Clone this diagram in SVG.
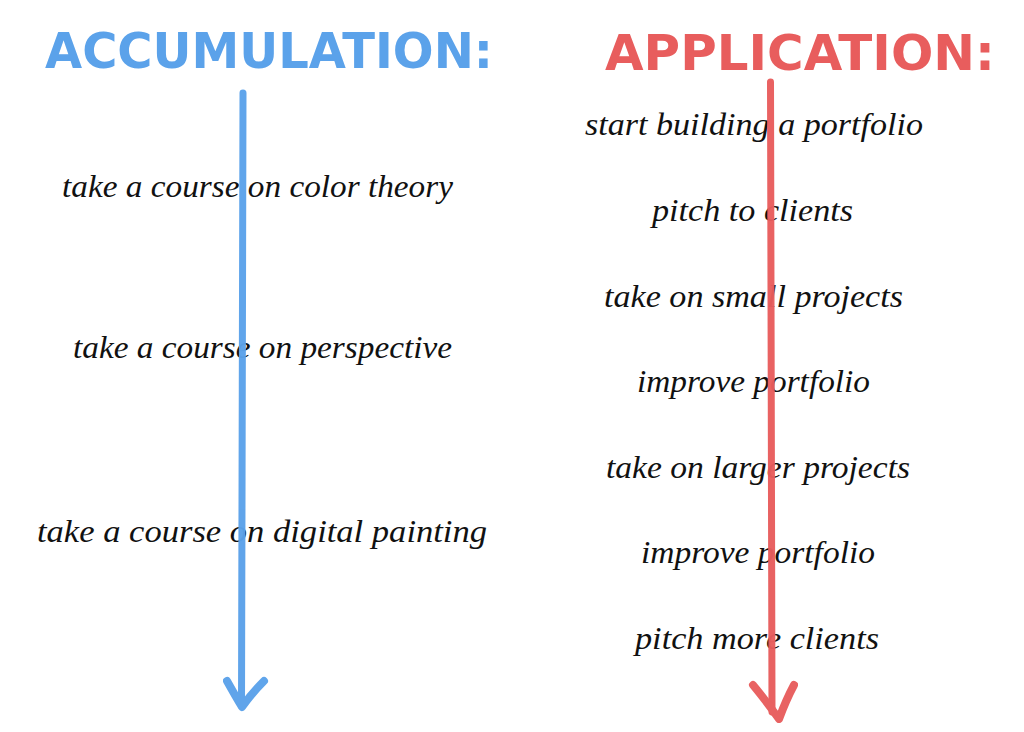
<svg xmlns="http://www.w3.org/2000/svg" width="1024" height="732" viewBox="0 0 1024 732">
  <style>
    .item { font-family: "Liberation Serif", "DejaVu Serif", serif; font-style: italic; font-size: 31px; fill: #111111; }
    .head { font-family: "DejaVu Sans", "Liberation Sans", sans-serif; font-weight: bold; font-size: 50px; }
    .blue { fill: #5BA2EA; }
    .red { fill: #E85D5D; }
    .shaft { fill: none; stroke-linecap: round; stroke-linejoin: round; }
    .bstroke { stroke: #5BA2EA; }
    .rstroke { stroke: #E85D5D; }
  </style>
  <rect x="0" y="0" width="1024" height="732" fill="#ffffff"/>

  <g id="heading-accumulation">
    <text class="head blue" x="45" y="68" textLength="448" lengthAdjust="spacingAndGlyphs">ACCUMULATION:</text>
  </g>
  <g id="heading-application">
    <text class="head red" x="605" y="70" textLength="390" lengthAdjust="spacingAndGlyphs">APPLICATION:</text>
  </g>

  <g id="acc-1"><text class="item" x="62" y="197" textLength="391" lengthAdjust="spacingAndGlyphs">take a course on color theory</text></g>
  <g id="acc-2"><text class="item" x="73" y="358" textLength="379" lengthAdjust="spacingAndGlyphs">take a course on perspective</text></g>
  <g id="acc-3"><text class="item" x="37" y="542" textLength="450" lengthAdjust="spacingAndGlyphs">take a course on digital painting</text></g>

  <g id="app-1"><text class="item" x="585" y="135" textLength="338" lengthAdjust="spacingAndGlyphs">start building a portfolio</text></g>
  <g id="app-2"><text class="item" x="652" y="221" textLength="201" lengthAdjust="spacingAndGlyphs">pitch to clients</text></g>
  <g id="app-3"><text class="item" x="604" y="307" textLength="299" lengthAdjust="spacingAndGlyphs">take on small projects</text></g>
  <g id="app-4"><text class="item" x="637" y="392" textLength="233" lengthAdjust="spacingAndGlyphs">improve portfolio</text></g>
  <g id="app-5"><text class="item" x="606" y="478" textLength="304" lengthAdjust="spacingAndGlyphs">take on larger projects</text></g>
  <g id="app-6"><text class="item" x="641" y="563" textLength="234" lengthAdjust="spacingAndGlyphs">improve portfolio</text></g>
  <g id="app-7"><text class="item" x="635" y="649" textLength="244" lengthAdjust="spacingAndGlyphs">pitch more clients</text></g>

  <g id="connectors" opacity="0.97">
    <path class="shaft bstroke" stroke-width="7" d="M243,93 L241.5,705"/>
    <path class="shaft bstroke" stroke-width="8" d="M227,681 Q236,697 242,707 Q252,693 264,681"/>
    <path class="shaft rstroke" stroke-width="7" d="M770.5,82 L772,712"/>
    <path class="shaft rstroke" stroke-width="8" d="M753,685 Q767,702 779,719 Q786,700 794,685"/>
  </g>
</svg>
